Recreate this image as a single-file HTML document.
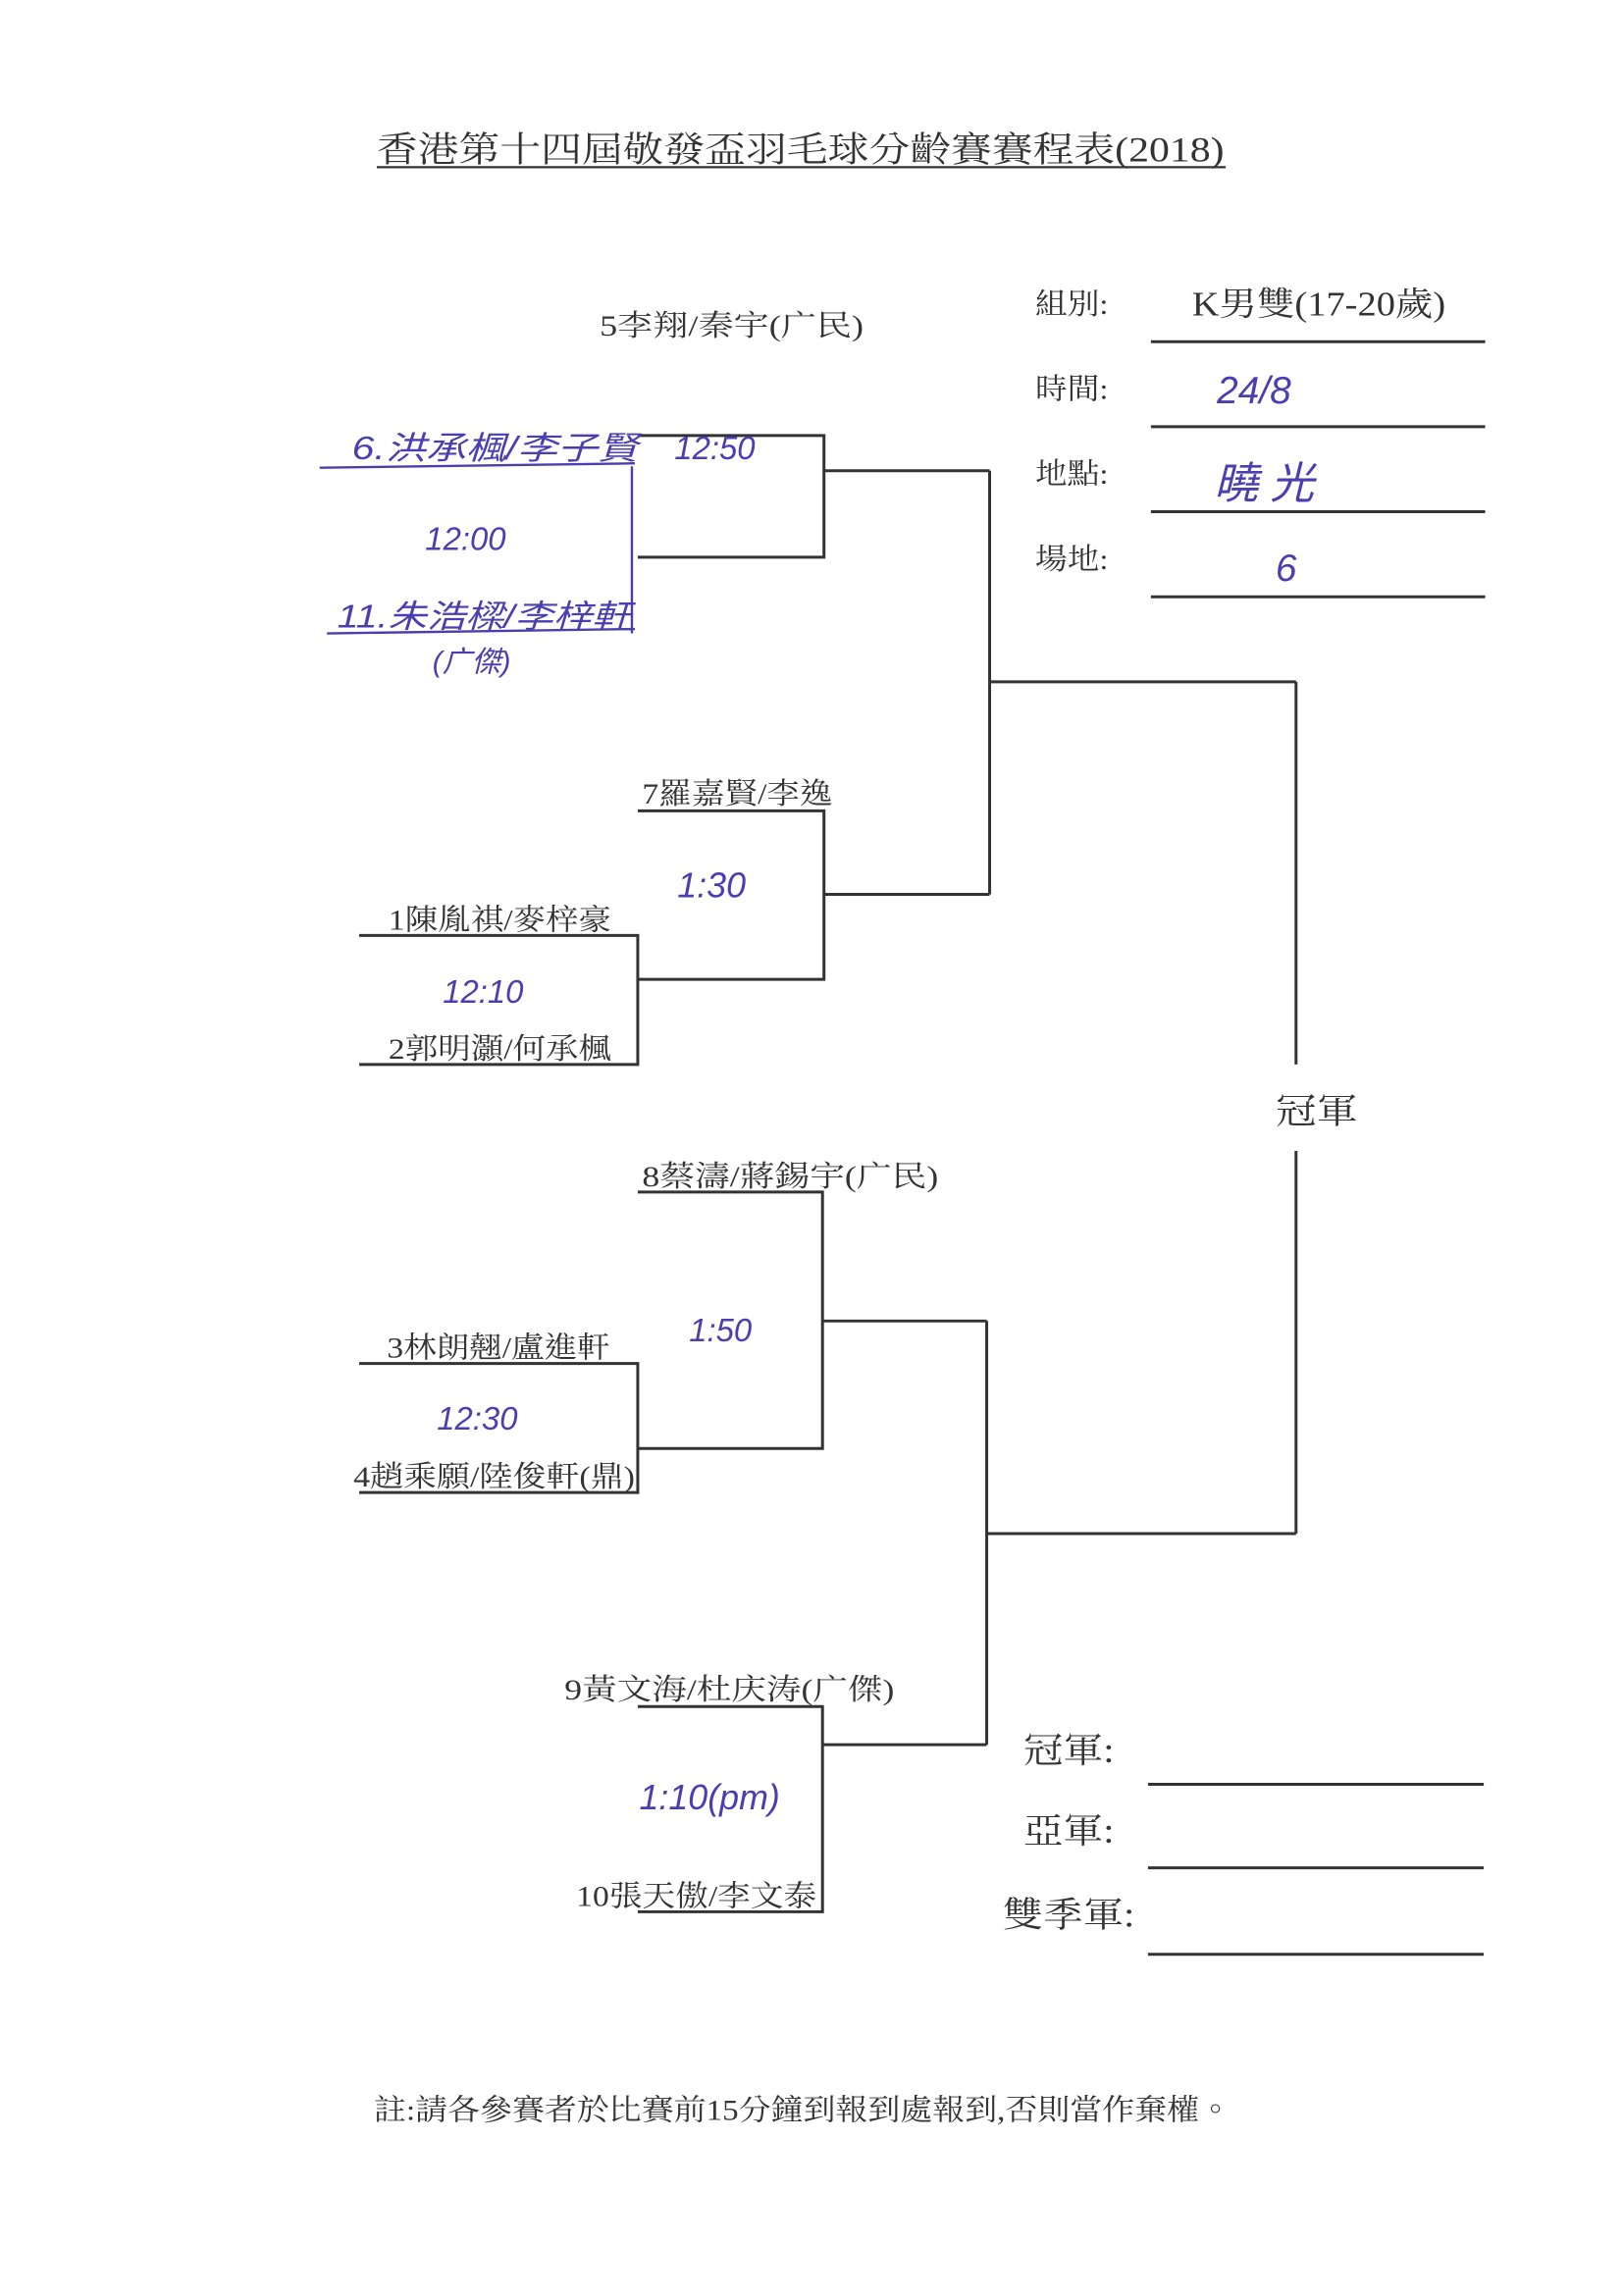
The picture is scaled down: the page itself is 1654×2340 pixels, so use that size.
<!DOCTYPE html>
<html><head><meta charset="utf-8"><style>
html,body{margin:0;padding:0;background:#fff;}
svg{display:block}
.t{font-family:"Liberation Serif","Noto Serif CJK TC","Noto Serif CJK SC",serif;fill:#333;}
.h{font-family:"Liberation Sans","Noto Sans CJK TC",sans-serif;fill:#4a3fb0;font-style:italic;}
</style></head><body>
<svg width="1654" height="2340" viewBox="0 0 1107 1566" xmlns="http://www.w3.org/2000/svg">
<rect width="1107" height="1566" fill="#fff"/>
<g class="t">
<text x="257" y="110" font-size="24" textLength="578" lengthAdjust="spacingAndGlyphs">香港第十四屆敬發盃羽毛球分齡賽賽程表(2018)</text>
<text x="706" y="214" font-size="20" textLength="50" lengthAdjust="spacingAndGlyphs">組別:</text>
<text x="813" y="215" font-size="23" textLength="173" lengthAdjust="spacingAndGlyphs">K男雙(17-20歲)</text>
<text x="706" y="272" font-size="20" textLength="50" lengthAdjust="spacingAndGlyphs">時間:</text>
<text x="706" y="330" font-size="20" textLength="50" lengthAdjust="spacingAndGlyphs">地點:</text>
<text x="706" y="388" font-size="20" textLength="50" lengthAdjust="spacingAndGlyphs">場地:</text>
<text x="409" y="229" font-size="20" textLength="180" lengthAdjust="spacingAndGlyphs">5李翔/秦宇(广民)</text>
<text x="438" y="548" font-size="20" textLength="130" lengthAdjust="spacingAndGlyphs">7羅嘉賢/李逸</text>
<text x="265" y="634" font-size="20" textLength="152" lengthAdjust="spacingAndGlyphs">1陳胤祺/麥梓豪</text>
<text x="265" y="722" font-size="20" textLength="152" lengthAdjust="spacingAndGlyphs">2郭明灝/何承楓</text>
<text x="438" y="809" font-size="20" textLength="202" lengthAdjust="spacingAndGlyphs">8蔡濤/蔣錫宇(广民)</text>
<text x="264" y="926" font-size="20" textLength="152" lengthAdjust="spacingAndGlyphs">3林朗翹/盧進軒</text>
<text x="241" y="1014" font-size="20" textLength="192" lengthAdjust="spacingAndGlyphs">4趙乘願/陸俊軒(鼎)</text>
<text x="385" y="1159" font-size="20" textLength="225" lengthAdjust="spacingAndGlyphs">9黃文海/杜庆涛(广傑)</text>
<text x="393" y="1300" font-size="20" textLength="164" lengthAdjust="spacingAndGlyphs">10張天傲/李文泰</text>
<text x="870" y="766" font-size="24" textLength="56" lengthAdjust="spacingAndGlyphs">冠軍</text>
<text x="698" y="1202" font-size="24" textLength="62" lengthAdjust="spacingAndGlyphs">冠軍:</text>
<text x="698" y="1257" font-size="24" textLength="62" lengthAdjust="spacingAndGlyphs">亞軍:</text>
<text x="684" y="1314" font-size="24" textLength="90" lengthAdjust="spacingAndGlyphs">雙季軍:</text>
<text x="255" y="1446" font-size="20" textLength="585" lengthAdjust="spacingAndGlyphs">註:請各參賽者於比賽前15分鐘到報到處報到,否則當作棄權。</text>
</g>
<line x1="257" y1="114" x2="836" y2="114" stroke="#333" stroke-width="1.5"/>
<g stroke="#333" stroke-width="2" fill="none">
<line x1="785" y1="233" x2="1013" y2="233"/>
<line x1="785" y1="291" x2="1013" y2="291"/>
<line x1="785" y1="349" x2="1013" y2="349"/>
<line x1="785" y1="407" x2="1013" y2="407"/>
<polyline points="435,297 562,297 562,380 435,380"/>
<line x1="562" y1="321" x2="675" y2="321"/>
<polyline points="435,553 562,553 562,668 435,668"/>
<line x1="562" y1="610" x2="675" y2="610"/>
<line x1="675" y1="321" x2="675" y2="610"/>
<line x1="675" y1="465" x2="884" y2="465"/>
<polyline points="245,638 435,638 435,726 245,726"/>
<polyline points="435,813 561,813 561,988 435,988"/>
<line x1="561" y1="901" x2="673" y2="901"/>
<polyline points="245,930 435,930 435,1018 245,1018"/>
<line x1="673" y1="901" x2="673" y2="1190"/>
<line x1="673" y1="1046" x2="884" y2="1046"/>
<polyline points="435,1164 561,1164 561,1304 435,1304"/>
<line x1="561" y1="1190" x2="673" y2="1190"/>
<line x1="884" y1="465" x2="884" y2="726"/>
<line x1="884" y1="785" x2="884" y2="1046"/>
<line x1="783" y1="1217" x2="1012" y2="1217"/>
<line x1="783" y1="1274" x2="1012" y2="1274"/>
<line x1="783" y1="1333" x2="1012" y2="1333"/>
</g>
<g stroke="#4a3fb0" stroke-width="1.6" fill="none">
<line x1="218" y1="319" x2="433" y2="316"/>
<line x1="431" y1="318" x2="431" y2="432"/>
<line x1="223" y1="432" x2="433" y2="429"/>
</g>
<g class="h">
<text x="240" y="313" font-size="22" textLength="195" lengthAdjust="spacingAndGlyphs">6.洪承楓/李子賢</text>
<text x="460" y="313" font-size="22">12:50</text>
<text x="290" y="375" font-size="22">12:00</text>
<text x="230" y="428" font-size="22" textLength="200" lengthAdjust="spacingAndGlyphs">11.朱浩樑/李梓軒</text>
<text x="295" y="458" font-size="20">(广傑)</text>
<text x="830" y="275" font-size="26">24/8</text>
<text x="828" y="340" font-size="30">曉 光</text>
<text x="870" y="396" font-size="26">6</text>
<text x="462" y="612" font-size="24">1:30</text>
<text x="302" y="684" font-size="22">12:10</text>
<text x="470" y="915" font-size="22">1:50</text>
<text x="298" y="975" font-size="22">12:30</text>
<text x="436" y="1234" font-size="24">1:10(pm)</text>
</g>
</svg>
</body></html>
